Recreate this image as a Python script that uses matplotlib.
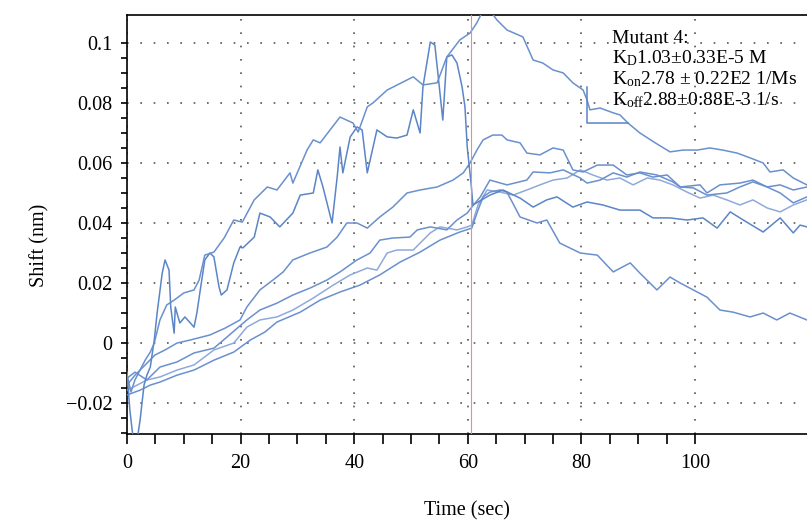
import numpy as np
import matplotlib
matplotlib.use('Agg')
import matplotlib.pyplot as plt
from matplotlib.ticker import FixedLocator, FixedFormatter

plt.rcParams['font.family'] = ['Liberation Serif', 'DejaVu Serif']
plt.rcParams['mathtext.fontset'] = 'custom'
plt.rcParams['mathtext.rm'] = 'Liberation Serif'
plt.rcParams['mathtext.it'] = 'Liberation Serif:italic'

# ---------------- data (time in s, shift in nm) ----------------
t_a = [0, 0.7, 1.4, 2.3, 3.2, 4.1, 4.8, 5.8, 7.0, 8.3, 10.0, 11.8, 12.7, 13.7, 15.3, 17.1, 18.8, 20.3,
       22.4, 24.7, 26.4, 28.7, 29.2, 31.7, 32.8, 34.0, 37.5, 39.8, 40.7, 42.3, 43.3, 45.8, 50.4, 52.1,
       54.6, 56.3, 58.6, 60.4, 61.6, 62.7, 63.9, 65.1, 66.9, 69.7, 71.5, 73.2, 75.0, 76.8, 78.5, 80.3,
       81.0, 81.5, 83.3, 85.6, 86.8, 88.2, 90.3, 93.0, 95.6, 97.9, 100.4, 102.6, 104.9, 107.4, 109.7,
       112.0, 113.2, 115.5, 117.3, 119.7]
s_a = [-0.0106, -0.0162, -0.0122, -0.0089, -0.0056, -0.0029, 0.0001, 0.0078, 0.0128, 0.0144, 0.0168,
       0.0178, 0.0211, 0.0294, 0.0304, 0.0351, 0.0411, 0.0404, 0.0478, 0.0521, 0.0511, 0.0568, 0.0534,
       0.0644, 0.0678, 0.0668, 0.0754, 0.0734, 0.0704, 0.0788, 0.0801, 0.0844, 0.0888, 0.0861, 0.0868,
       0.0954, 0.1011, 0.1034, 0.1068, 0.1110, 0.1110, 0.1078, 0.1044, 0.1021, 0.0944, 0.0934, 0.0911,
       0.0901, 0.0868, 0.0844, 0.0811, 0.0778, 0.0784, 0.0768, 0.0761, 0.0734, 0.0701, 0.0668, 0.0638,
       0.0644, 0.0644, 0.0651, 0.0644, 0.0634, 0.0618, 0.0601, 0.0571, 0.0578, 0.0551, 0.0528]

t_box = [81.0, 81.0, 88.2]
s_box = [0.0854, 0.0734, 0.0734]

t_b = [0, 0.5, 1.1, 1.8, 2.3, 3.0, 3.5, 4.1, 4.8, 5.3, 6.2, 6.7, 7.4, 7.7, 8.3, 8.5, 9.3, 10.2, 11.8,
       12.3, 12.9, 13.7, 14.6, 15.3, 16.2, 16.6, 17.6, 18.8, 19.9, 20.4, 22.4, 23.4, 25.2, 26.9, 29.2,
       30.5, 32.8, 33.6, 34.5, 36.1, 37.0, 37.5, 38.0, 39.3, 40.5, 41.4, 42.3, 44.0, 45.8, 47.5, 49.3,
       50.4, 51.6, 52.1, 53.4, 54.2, 54.8, 55.6, 56.3, 57.2, 58.1, 59.0, 59.5, 59.9, 60.2, 60.6, 60.9,
       63.9, 66.2, 69.2, 71.5, 73.9, 75.7, 78.5, 81.0, 83.8, 86.8, 90.3, 92.6, 95.6, 98.6, 101.4,
       103.9, 106.2, 108.5, 112.0, 115.0, 117.3, 118.5, 119.7]
s_b = [-0.0096, -0.0222, -0.0320, -0.0320, -0.0256, -0.0139, -0.0106, -0.0079, 0.0011, 0.0101,
       0.0234, 0.0278, 0.0244, 0.0121, 0.0034, 0.0121, 0.0068, 0.0088, 0.0054, 0.0101, 0.0178, 0.0278,
       0.0301, 0.0288, 0.0188, 0.0161, 0.0178, 0.0268, 0.0321, 0.0318, 0.0354, 0.0434, 0.0421, 0.0388,
       0.0434, 0.0494, 0.0501, 0.0578, 0.0521, 0.0401, 0.0554, 0.0654, 0.0568, 0.0688, 0.0721, 0.0711,
       0.0568, 0.0711, 0.0688, 0.0684, 0.0694, 0.0778, 0.0701, 0.0854, 0.1004, 0.0994, 0.0888, 0.0744,
       0.0954, 0.0961, 0.0934, 0.0854, 0.0788, 0.0654, 0.0601, 0.0528, 0.0461, 0.0494, 0.0511, 0.0484,
       0.0454, 0.0478, 0.0488, 0.0454, 0.0471, 0.0461, 0.0444, 0.0444, 0.0418, 0.0418, 0.0411, 0.0418,
       0.0384, 0.0438, 0.0411, 0.0371, 0.0418, 0.0368, 0.0394, 0.0388]

t_c = [0, 1.4, 3.2, 4.9, 6.7, 8.8, 11.1, 14.6, 17.3, 19.9, 21.1, 23.4, 25.7, 27.5, 29.2, 32.2, 35.2,
       37.0, 38.7, 40.5, 42.3, 44.5, 46.8, 49.3, 51.6, 54.6, 57.4, 59.2, 60.4, 61.6, 62.7, 64.4, 66.0,
       66.9, 69.2, 70.4, 72.7, 75.0, 76.8, 78.5, 80.3, 82.8, 85.6, 88.0, 90.3, 92.6, 95.1, 97.4, 99.7,
       102.1, 105.6, 107.9, 110.2, 112.7, 115.0, 117.3, 119.7]
s_c = [-0.0139, -0.0106, -0.0072, -0.0039, -0.0022, 0.0001, 0.0011, 0.0028, 0.0051, 0.0078, 0.0121,
       0.0178, 0.0211, 0.0238, 0.0278, 0.0301, 0.0321, 0.0354, 0.0401, 0.0401, 0.0384, 0.0421, 0.0454,
       0.0501, 0.0511, 0.0521, 0.0544, 0.0568, 0.0601, 0.0644, 0.0678, 0.0694, 0.0694, 0.0678, 0.0668,
       0.0634, 0.0628, 0.0651, 0.0644, 0.0578, 0.0571, 0.0594, 0.0594, 0.0561, 0.0568, 0.0554, 0.0561,
       0.0521, 0.0518, 0.0494, 0.0501, 0.0521, 0.0538, 0.0521, 0.0501, 0.0468, 0.0488]

t_e = [0, 1.4, 3.5, 5.8, 8.8, 11.8, 15.3, 17.6, 21.1, 23.4, 26.4, 29.2, 32.2, 35.2, 37.5, 40.5, 42.8,
       44.5, 46.8, 49.8, 51.1, 53.4, 56.3, 58.1, 59.9, 60.7, 62.2, 63.9, 66.9, 70.4, 71.5, 74.5, 76.8,
       79.8, 81.0, 83.3, 85.6, 88.0, 90.3, 93.3, 96.1, 97.4, 100.9, 102.1, 104.4, 107.9, 110.2, 112.7,
       115.0, 117.3, 119.7]
s_e = [-0.0116, -0.0096, -0.0122, -0.0079, -0.0062, -0.0032, -0.0016, 0.0021, 0.0078, 0.0111, 0.0134,
       0.0161, 0.0184, 0.0211, 0.0238, 0.0278, 0.0301, 0.0344, 0.0351, 0.0354, 0.0378, 0.0388, 0.0378,
       0.0411, 0.0434, 0.0454, 0.0488, 0.0544, 0.0528, 0.0544, 0.0571, 0.0568, 0.0578, 0.0551, 0.0534,
       0.0544, 0.0568, 0.0554, 0.0571, 0.0561, 0.0538, 0.0521, 0.0528, 0.0501, 0.0528, 0.0534, 0.0544,
       0.0521, 0.0528, 0.0511, 0.0521]

t_f = [0, 1.8, 3.5, 5.8, 8.8, 11.8, 15.3, 18.8, 21.1, 23.4, 26.4, 29.2, 32.8, 36.3, 39.3, 42.3, 44.0,
       45.8, 47.5, 50.4, 51.6, 53.4, 55.1, 58.1, 59.9, 60.7, 61.8, 63.4, 65.7, 68.0, 70.4, 72.7, 75.0,
       77.5, 79.8, 82.0, 84.5, 86.8, 89.1, 91.6, 93.8, 96.1, 98.6, 100.9, 103.2, 105.6, 107.9, 110.2,
       112.7, 115.0, 117.3, 119.7]
s_f = [-0.0156, -0.0139, -0.0122, -0.0112, -0.0089, -0.0072, -0.0022, 0.0001, 0.0054, 0.0078, 0.0088,
       0.0111, 0.0151, 0.0194, 0.0228, 0.0251, 0.0244, 0.0301, 0.0311, 0.0311, 0.0334, 0.0368, 0.0388,
       0.0378, 0.0388, 0.0394, 0.0461, 0.0511, 0.0504, 0.0494, 0.0511, 0.0528, 0.0544, 0.0551, 0.0578,
       0.0561, 0.0544, 0.0551, 0.0528, 0.0551, 0.0544, 0.0528, 0.0504, 0.0484, 0.0494, 0.0478, 0.0461,
       0.0478, 0.0451, 0.0438, 0.0461, 0.0478]

t_h = [0, 2.3, 4.1, 5.8, 8.8, 11.8, 15.3, 18.8, 21.7, 24.3, 26.4, 30.5, 34.0, 37.5, 41.0, 44.5, 48.1,
       51.6, 55.1, 58.6, 60.7, 61.8, 62.7, 63.9, 65.7, 66.9, 69.2, 72.2, 73.9, 76.2, 79.8, 82.8, 85.6,
       88.6, 90.3, 93.3, 95.6, 97.4, 99.7, 102.1, 104.4, 106.7, 109.7, 112.0, 114.4, 116.7, 119.7]
s_h = [-0.0172, -0.0156, -0.0139, -0.0129, -0.0106, -0.0089, -0.0056, -0.0029, 0.0011, 0.0038, 0.0071,
       0.0104, 0.0144, 0.0171, 0.0194, 0.0228, 0.0271, 0.0304, 0.0344, 0.0371, 0.0384, 0.0444, 0.0488,
       0.0504, 0.0511, 0.0504, 0.0421, 0.0401, 0.0411, 0.0334, 0.0301, 0.0294, 0.0238, 0.0268, 0.0234,
       0.0178, 0.0221, 0.0201, 0.0178, 0.0154, 0.0111, 0.0104, 0.0088, 0.0101, 0.0078, 0.0101, 0.0078]

event_time = 60.6

x_major = [0, 20, 40, 60, 80, 100]
x_labels = ['0', '20', '40', '60', '80', '100']
y_major = [-0.02, 0.0, 0.02, 0.04, 0.06, 0.08, 0.1]
y_labels = ['\u22120.02', '0', '0.02', '0.04', '0.06', '0.08', '0.1']

annotation = ['Mutant 4:',
              'K$_\\mathrm{D}$1.03\u00b10.33E-5 M',
              'K$_\\mathrm{on}$2.78 \u00b1 0.22E2 1/Ms',
              'K$_\\mathrm{off}$2.88\u00b10:88E-3 1/s']

# ---------------- figure ----------------
W, H = 807, 522
fig = plt.figure(figsize=(W / 100, H / 100), dpi=100)
ax = fig.add_axes([127 / W, 88 / H, 680 / W, 419 / H])
ax.set_xlim(0, 119.72)
ax.set_ylim(-0.0302, 0.1094)

line_col = '#6a90cd'
ax.plot(t_f, s_f, color='#8eaadb', lw=1.1, zorder=3)
ax.plot(t_h, s_h, color=line_col, lw=1.1, zorder=3)
ax.plot(t_e, s_e, color=line_col, lw=1.1, zorder=3)
ax.plot(t_c, s_c, color=line_col, lw=1.1, zorder=3)
ax.plot(t_b, s_b, color='#5b85c7', lw=1.1, zorder=3)
ax.plot(t_a, s_a, color=line_col, lw=1.1, zorder=3)
ax.plot(t_box, s_box, color='#5a82c6', lw=1.1, zorder=3)

ax.axvline(event_time, color='#f08a8a', lw=0.8, zorder=4)

for sp in ['top', 'left', 'bottom']:
    ax.spines[sp].set_linewidth(1.2)
    ax.spines[sp].set_color('black')
ax.spines['right'].set_visible(False)

ax.xaxis.set_major_locator(FixedLocator(x_major))
ax.xaxis.set_major_formatter(FixedFormatter(x_labels))
ax.xaxis.set_minor_locator(FixedLocator(np.arange(0, 100.1, 5)))
ax.yaxis.set_major_locator(FixedLocator(y_major))
ax.yaxis.set_major_formatter(FixedFormatter(y_labels))
ax.yaxis.set_minor_locator(FixedLocator(np.arange(-0.03, 0.1001, 0.005)))

ax.tick_params(axis='x', which='both', direction='out', length=7.5, width=1.2,
               pad=7, labelsize=14.5, top=False)
ax.tick_params(axis='y', which='both', direction='out', length=4.5, width=1.2,
               pad=6, labelsize=14.5, right=False)

ax.grid(True, which='major', color='#555555', linestyle=(0, (1, 7)), linewidth=1.2, zorder=1)
ax.set_axisbelow(True)

fig.text(467 / W, 1 - 511 / H, 'Time (sec)', ha='center', va='center', fontsize=14.5)
fig.text(40 / W, 1 - 245 / H, 'Shift (nm)', ha='center', va='center', fontsize=14.5, rotation=90)

baselines = [43, 63, 84, 105]
for txt, bl in zip(annotation, baselines):
    fig.text(612 / W, 1 - bl / H, txt, ha='left', va='baseline', fontsize=14)

fig.savefig('out.png', dpi=100)
